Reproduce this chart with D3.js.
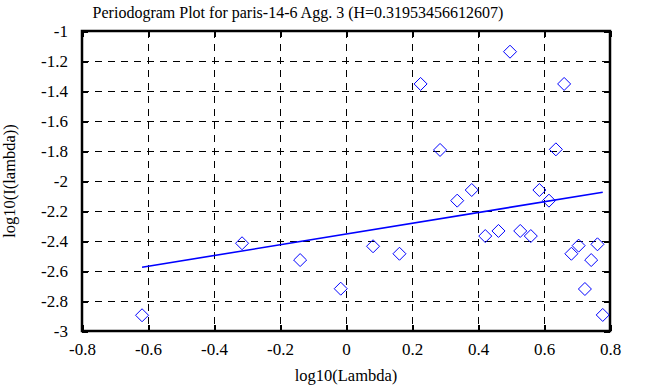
<!DOCTYPE html>
<html><head><meta charset="utf-8">
<script src="https://cdn.jsdelivr.net/npm/d3@7"></script>
<style>
html,body{margin:0;padding:0;background:#fff;}
svg{display:block;}
text{font-family:"Liberation Serif","Times New Roman",serif;fill:#000;}
</style></head>
<body>
<svg id="chart" width="647" height="387"></svg>
<script>
const title = "Periodogram Plot for paris-14-6 Agg. 3 (H=0.31953456612607)";
const xLabel = "log10(Lambda)";
const yLabel = "log10(I(lambda))";
const pointX = [-0.618,-0.315,-0.139,-0.016,0.082,0.162,0.226,0.285,0.337,0.381,0.422,0.462,0.497,0.528,0.560,0.586,0.615,0.636,0.661,0.683,0.705,0.724,0.743,0.762,0.778];
const pointY = [-2.895,-2.415,-2.527,-2.718,-2.435,-2.485,-1.353,-1.793,-2.131,-2.06,-2.367,-2.333,-1.138,-2.333,-2.367,-2.06,-2.131,-1.789,-1.353,-2.485,-2.431,-2.72,-2.527,-2.422,-2.893];
const fitX = [-0.618, 0.778];
const fitY = [-2.575, -2.075];
const xTicks = [-0.8,-0.6,-0.4,-0.2,0,0.2,0.4,0.6,0.8];
const yTicks = [-3,-2.8,-2.6,-2.4,-2.2,-2,-1.8,-1.6,-1.4,-1.2,-1];

const L=82, R=610, T=31, B=331;
const svg = d3.select("#chart");
const x = d3.scaleLinear().domain([-0.8,0.8]).range([L,R]);
const y = d3.scaleLinear().domain([-3,-1]).range([B,T]);
const fmt = d => String(+d.toFixed(1));

// grid
const grid = svg.append("g").attr("stroke","#000").attr("stroke-width",1).attr("stroke-dasharray","7,6").attr("shape-rendering","crispEdges");
grid.selectAll("line.vx").data(xTicks.slice(1,-1)).join("line")
  .attr("x1",d=>Math.round(x(d))+0.5).attr("x2",d=>Math.round(x(d))+0.5).attr("y1",T).attr("y2",B);
grid.selectAll("line.hy").data(yTicks.slice(1,-1)).join("line")
  .attr("y1",d=>Math.round(y(d))+0.5).attr("y2",d=>Math.round(y(d))+0.5).attr("x1",L).attr("x2",R);

// axes with inward ticks
const axB = d3.axisBottom(x).tickValues(xTicks).tickSize(-6).tickPadding(12).tickFormat(d=>d===0?"0":fmt(d));
const axT = d3.axisTop(x).tickValues(xTicks).tickSize(-6).tickFormat("");
const axLft = d3.axisLeft(y).tickValues(yTicks).tickSize(-6).tickPadding(14).tickFormat(d=>fmt(d));
const axRgt = d3.axisRight(y).tickValues(yTicks).tickSize(-6).tickFormat("");
function style(g){g.select(".domain").remove();g.selectAll(".tick line").attr("stroke","#000").attr("stroke-width",2).attr("shape-rendering","crispEdges");g.selectAll("text").attr("font-size",17).attr("font-family","Liberation Serif, serif").attr("fill","#000");}
svg.append("g").attr("transform",`translate(0,${B})`).call(axB).call(style);
svg.append("g").attr("transform",`translate(0,${T})`).call(axT).call(style);
svg.append("g").attr("transform",`translate(${L},0)`).call(axLft).call(style);
svg.append("g").attr("transform",`translate(${R},0)`).call(axRgt).call(style);

// frame
svg.append("rect").attr("x",L).attr("y",T).attr("width",R-L).attr("height",B-T)
  .attr("fill","none").attr("stroke","#000").attr("stroke-width",2.5);

// fit line
svg.append("path").datum(fitX.map((v,i)=>[v,fitY[i]]))
  .attr("d",d3.line().x(d=>x(d[0])).y(d=>y(d[1])))
  .attr("stroke","#0000ff").attr("stroke-width",1.6).attr("fill","none");

// diamonds
const s=6.5;
svg.append("g").selectAll("path").data(pointX.map((v,i)=>[v,pointY[i]])).join("path")
  .attr("d",d=>{const cx=x(d[0]),cy=y(d[1]);return `M${cx},${cy-s}L${cx+s},${cy}L${cx},${cy+s}L${cx-s},${cy}Z`;})
  .attr("fill","none").attr("stroke","#0000ff").attr("stroke-width",1);

// texts
svg.append("text").attr("x",298).attr("y",18).attr("text-anchor","middle").attr("font-size",16).text(title);
svg.append("text").attr("x",(L+R)/2).attr("y",381).attr("text-anchor","middle").attr("font-size",16.5).text(xLabel);
svg.append("text").attr("transform",`translate(15,${(T+B)/2}) rotate(-90)`).attr("text-anchor","middle").attr("font-size",16.5).text(yLabel);
</script>
</body></html>
